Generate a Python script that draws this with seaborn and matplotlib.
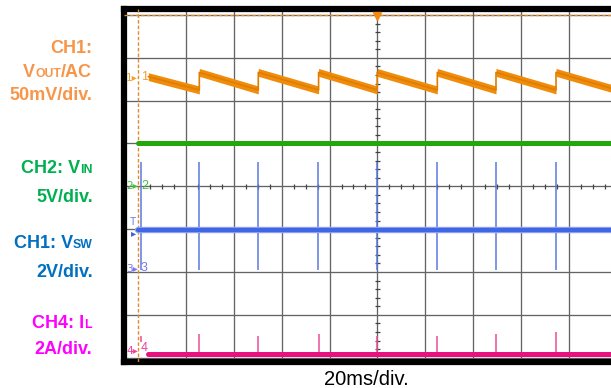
import numpy as np
import pandas as pd
import matplotlib
matplotlib.use("Agg")
import matplotlib.pyplot as plt
import seaborn as sns
from matplotlib.transforms import IdentityTransform

# ---------------- data (screen divisions: x = time div, y = vertical div) -------------
# CH1 Vout/AC sawtooth (band centre)
ch1_t = [0.21, 1.276, 1.276, 2.509, 2.509, 3.77, 3.77, 4.996, 4.996,
         6.253, 6.253, 7.48, 7.48, 8.735, 8.735, 9.885]
ch1_v = [6.56, 6.25, 6.66, 6.25, 6.66, 6.25, 6.66, 6.25, 6.66,
         6.25, 6.66, 6.25, 6.66, 6.25, 6.66, 6.29]
# CH2 Vin (flat)
ch2_t = [0.0, 9.885]
ch2_v = [5.0, 5.0]
# Vsw trace (flat) with switching spikes
vsw_t = [0.0, 9.885]
vsw_v = [2.986, 2.986]
vsw_spike_t = [0.05, 1.276, 2.509, 3.765, 4.996, 6.253, 7.48, 8.73]
vsw_spike_top = [4.57, 4.57, 4.57, 4.57, 4.57, 4.57, 4.57, 4.57]
vsw_spike_bot = [2.04, 2.04, 2.04, 2.04, 2.04, 2.04, 2.04, 2.04]
# CH4 IL (flat) with spikes
il_t = [0.21, 9.885]
il_v = [0.098, 0.098]
il_spike_t = [0.06, 1.276, 2.509, 3.77, 4.996, 6.253, 7.48, 8.735]
il_spike_top = [0.50, 0.55, 0.51, 0.55, 0.51, 0.51, 0.55, 0.60]
il_spike_bot = [0.36, 0.098, 0.098, 0.098, 0.098, 0.098, 0.098, 0.098]

x_label = "20ms/div."

# ---------------- figure ----------------
W, H = 611, 388
sns.set_theme(style="white")
plt.rcParams['font.family'] = ['Liberation Sans', 'DejaVu Sans']
fig = plt.figure(figsize=(W / 100, H / 100), dpi=100)

ax_l, ax_r, ax_t, ax_b = 123.7, 611.0, 9.3, 362.0
ax = fig.add_axes([ax_l / W, 1 - ax_b / H, (ax_r - ax_l) / W, (ax_b - ax_t) / H])
x0, pxx = 138.3, 47.82
y0, pxy = 357.7, 42.84
ax.set_xlim((ax_l - x0) / pxx, (ax_r - x0) / pxx)
ax.set_ylim((y0 - ax_b) / pxy, (y0 - ax_t) / pxy)
ax.set_xticks([]); ax.set_yticks([])
for side in ['left', 'top', 'bottom']:
    ax.spines[side].set_color('black')
    ax.spines[side].set_linewidth(4.5)
ax.spines['right'].set_visible(False)

grid_c = '#646464'
for gx in range(1, 10):
    ax.axvline(gx, color=grid_c, lw=0.95, zorder=1)
for gy in range(0, 9):
    ax.axhline(gy, color=grid_c, lw=0.95, zorder=1)

# centre-line minor ticks
mt_x = [k * 0.25 for k in range(1, 40) if k % 4]
ax.vlines(mt_x, 4 - 0.058, 4 + 0.058, color='#444444', lw=0.9, zorder=2)
mt_y = [k * 0.2 for k in range(1, 40) if k % 5]
ax.hlines(mt_y, 5 - 0.052, 5 + 0.052, color='#444444', lw=0.9, zorder=2)

# trigger position markers (orange dashed)
orange_tr = '#F08C0C'
ax.axvline(0, color='#E08A2A', lw=1.0, ls=(0, (2.5, 1.5)), zorder=3)
ax.axhline(8, color='#E08A2A', lw=1.0, ls=(0, (2.5, 1.5)), zorder=3)
ax.plot([4.996], [7.97], marker='v', ms=6, color='#F08A10', zorder=6, clip_on=False)

# CH1 band
c1t = np.array(ch1_t); c1v = np.array(ch1_v)
ax.fill_between(c1t, c1v - 0.092, c1v + 0.092, color=orange_tr, lw=0, zorder=5)
sns.lineplot(x=ch1_t, y=ch1_v, ax=ax, sort=False, estimator=None,
             color='#E07D00', lw=1.2, zorder=5)

# CH2
sns.lineplot(x=ch2_t, y=ch2_v, ax=ax, sort=False, estimator=None,
             color='#22A80A', lw=3.6, zorder=5)

# Vsw
ax.vlines(vsw_spike_t, vsw_spike_bot, vsw_spike_top, color='#5B78E0', lw=1.1, zorder=4)
sns.lineplot(x=vsw_t, y=vsw_v, ax=ax, sort=False, estimator=None,
             color='#8FA6F0', lw=4.6, zorder=5)
sns.lineplot(x=vsw_t, y=vsw_v, ax=ax, sort=False, estimator=None,
             color='#3F66E6', lw=3.0, zorder=5)

# IL
ax.vlines(il_spike_t, il_spike_bot, il_spike_top, color='#EE4C9A', lw=1.1, zorder=4)
sns.lineplot(x=il_t, y=il_v, ax=ax, sort=False, estimator=None,
             color='#E8117E', lw=3.6, zorder=5)

# channel markers
def ptext(x, y, s, color, size, **kw):
    fig.text(x, H - y, s, transform=IdentityTransform(), color=color,
             fontsize=size, **kw)

ptext(126, 78, "1▸", '#F0A030', 7.5, ha='left', va='center', family=['DejaVu Sans'])
ptext(141, 77, "1", '#F0A030', 9, ha='left', va='center')
ptext(126, 186, "2▸", '#44C040', 7.5, ha='left', va='center', family=['DejaVu Sans'])
ptext(141, 186, "2", '#44C040', 9, ha='left', va='center')
ptext(133, 222, "T", '#6080E0', 7.5, ha='center', va='center')
ptext(134, 233, "▸", '#4060E0', 7.5, ha='center', va='center', family=['DejaVu Sans'])
ptext(126, 269, "3▸", '#7A78E8', 7.5, ha='left', va='center', family=['DejaVu Sans'])
ptext(141, 268, "3", '#7A78E8', 9, ha='left', va='center')
ptext(126, 351, "4▸", '#F040A0', 7.5, ha='left', va='center', family=['DejaVu Sans'])
ptext(141, 348, "4", '#F040A0', 9, ha='left', va='center')

# x label
ptext(366, 385, x_label, 'black', 14.5, ha='center', va='baseline')

# left rich labels (right aligned)
renderer = fig.canvas.get_renderer()

def rich_right(parts, x_right, y_base, color):
    x = x_right
    for s, size in reversed(parts):
        t = fig.text(x, H - y_base, s, transform=IdentityTransform(), ha='right',
                     va='baseline', fontsize=size, fontweight='bold', color=color)
        x -= t.get_window_extent(renderer=renderer).width

c_or, c_gr, c_bl, c_pk = '#F7964A', '#00B050', '#0070C0', '#FF00FF'
big, small = 13, 8.8
rich_right([("CH1:", big)], 92, 53, c_or)
rich_right([("V", big), ("OUT", small), ("/AC", big)], 92, 77, c_or)
rich_right([("50mV/div.", big)], 92, 100, c_or)
rich_right([("CH2: V", big), ("IN", small)], 93, 173, c_gr)
rich_right([("5V/div.", big)], 93, 202, c_gr)
rich_right([("CH1: V", big), ("SW", small)], 93, 248, c_bl)
rich_right([("2V/div.", big)], 93, 277, c_bl)
rich_right([("CH4: I", big), ("L", small)], 92, 328, c_pk)
rich_right([("2A/div.", big)], 92, 354, c_pk)

fig.savefig("out.png", dpi=100)
